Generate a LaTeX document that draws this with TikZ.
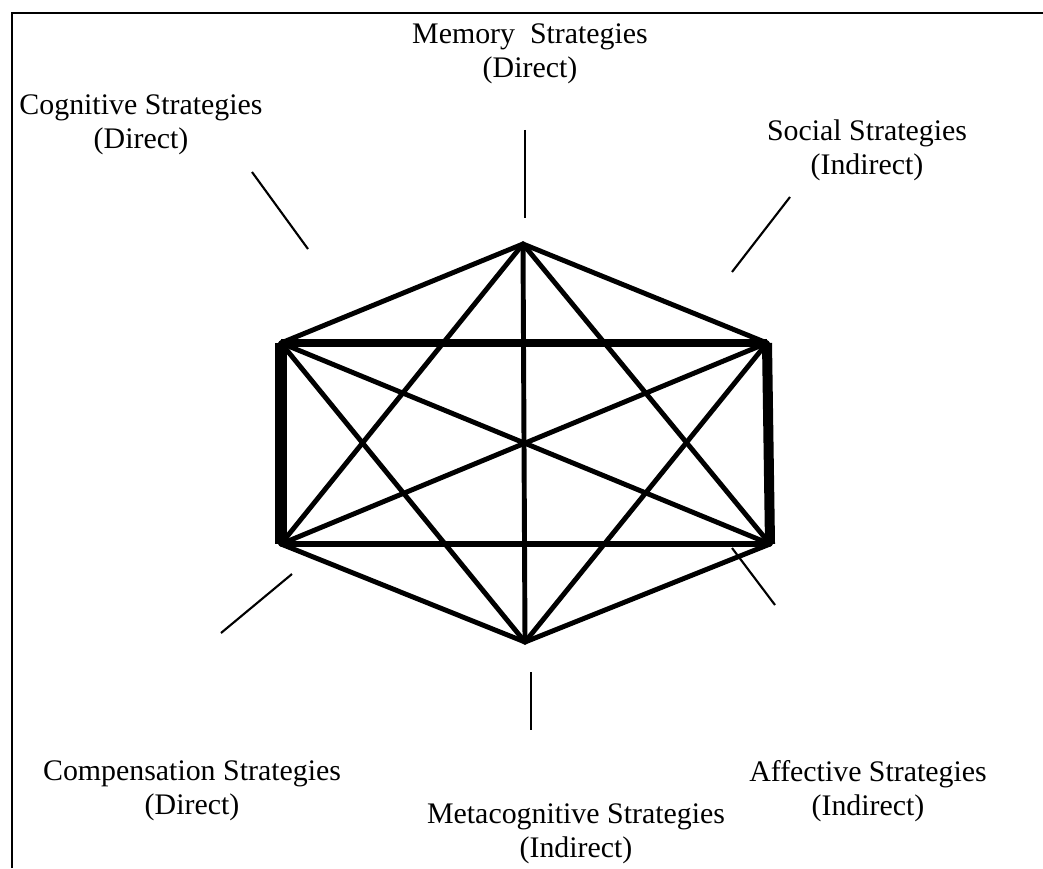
\documentclass[tikz,border=0pt]{standalone}
\usepackage{fontspec}
\setmainfont{Liberation Serif}
\begin{document}
\begin{tikzpicture}[x=0.02cm,y=-0.02cm,
  lbl/.style={align=center,inner sep=0pt,font=\fontsize{17}{19.3}\selectfont},
  edge/.style={line width=2.8pt,line cap=round,line join=round},
  tick/.style={line width=1.2pt}]
\useasboundingbox (0,0) rectangle (1043,868);
% frame (top and left visible)
\draw[line width=1.7pt] (12,868) -- (12,13) -- (1043,13);
% vertices
\coordinate (T) at (523,244);
\coordinate (UL) at (281,343);
\coordinate (UR) at (767,343);
\coordinate (LL) at (281,544);
\coordinate (LR) at (770,544);
\coordinate (B) at (525,642);
% heavy sides
\draw[line width=6.8pt] (UL) -- (LL);
\draw[line width=5.7pt] (UR) -- (LR);
\draw[line width=4pt] (UL) -- (UR);
\draw[line width=3.2pt] (LL) -- (LR);
% other edges
\draw[edge] (T) -- (UL);
\draw[edge] (T) -- (UR);
\draw[edge] (T) -- (LL);
\draw[edge] (T) -- (LR);
\draw[edge] (T) -- (B);
\draw[edge] (UL) -- (LR);
\draw[edge] (UL) -- (B);
\draw[edge] (UR) -- (LL);
\draw[edge] (UR) -- (B);
\draw[edge] (LL) -- (B);
\draw[edge] (LR) -- (B);
% labels
\node[lbl] (mem) at (530,54) {Memory\ \ Strategies\\(Direct)};
\node[lbl] (cog) at (141,125) {Cognitive Strategies\\(Direct)};
\node[lbl] (soc) at (867,150) {Social Strategies\\(Indirect)};
\node[lbl] (com) at (192,791) {Compensation Strategies\\(Direct)};
\node[lbl] (aff) at (868,791) {Affective Strategies\\(Indirect)};
\node[lbl] (met) at (576,834) {Metacognitive Strategies\\(Indirect)};
% label ticks
\coordinate (m1) at (525,130); \coordinate (m2) at (525,218);
\coordinate (c1) at (252,172); \coordinate (c2) at (308,249);
\coordinate (s1) at (790,197); \coordinate (s2) at (732,272);
\coordinate (p1) at (292,574); \coordinate (p2) at (221,633);
\coordinate (a1) at (732,548); \coordinate (a2) at (775,605);
\coordinate (t1) at (531,672); \coordinate (t2) at (531,730);
\draw[tick] (m1) -- (m2);
\draw[tick] (c1) -- (c2);
\draw[tick] (s1) -- (s2);
\draw[tick] (p1) -- (p2);
\draw[tick] (a1) -- (a2);
\draw[tick] (t1) -- (t2);
\end{tikzpicture}
\end{document}
